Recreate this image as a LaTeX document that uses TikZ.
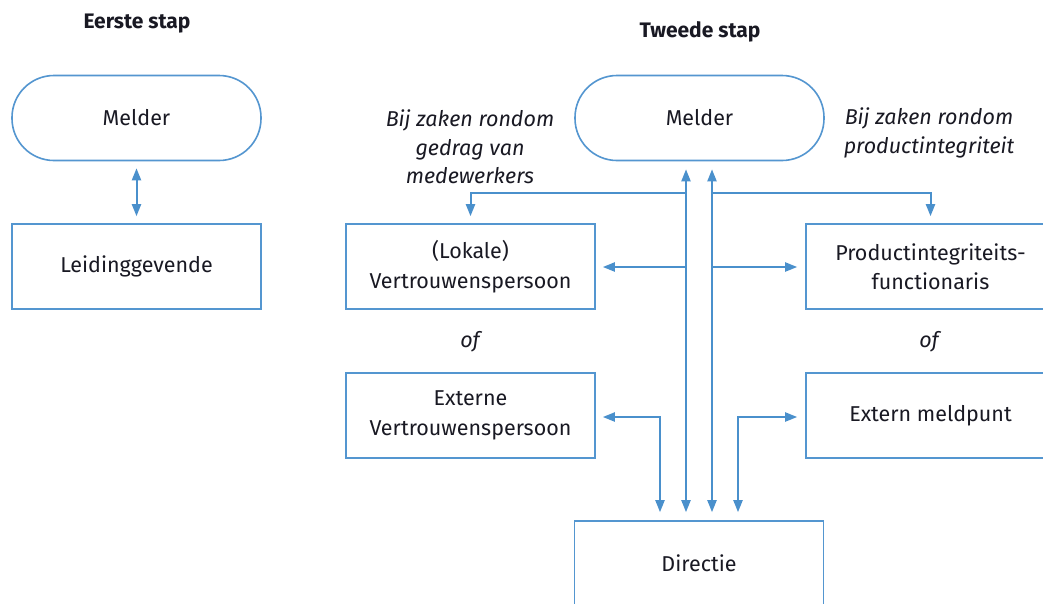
\documentclass[tikz,border=0pt]{standalone}
\usepackage{fontspec}
\setmainfont{Fira Sans}
\usetikzlibrary{arrows.meta}
\definecolor{lblue}{RGB}{74,144,204}
\definecolor{bblue}{RGB}{84,150,208}
\definecolor{txt}{RGB}{25,25,35}
\begin{document}
\begin{tikzpicture}[x=1pt,y=-1pt,
  every node/.style={text=txt, font=\fontsize{21.5}{29.5}\selectfont},
  box/.style={draw=bblue, line width=1.6pt, minimum width=249pt, minimum height=85pt, align=center, inner sep=0pt},
  term/.style={box, rounded corners=42pt},
  lbl/.style={align=center, font=\fontsize{21.5}{28.5}\selectfont\itshape},
  ttl/.style={font=\fontsize{21}{24}\selectfont\bfseries},
  arr/.tip={Triangle[length=12pt,width=9pt]},
  conn/.style={draw=lblue, line width=2pt, -arr},
  bi/.style={draw=lblue, line width=2pt, arr-arr}]
\useasboundingbox (0,0) rectangle (1043,603);
\clip (0,0) rectangle (1043,603);
\fill[white] (0,0) rectangle (1043,603);
% titles
\node[ttl] (t1) at (137,24) {Eerste stap};
\node[ttl] (t2) at (700,32) {Tweede stap};
% first step
\node[term] (m1) at (136.5,118) {Melder};
\node[box] (lg) at (136.5,266.5) {Leidinggevende};
\draw[bi, shorten <=7pt, shorten >=7pt] (m1) -- (lg);
% second step
\node[term] (m2) at (699.5,118) {Melder};
\node[box] (lv) at (470.5,266.5) {(Lokale)\\Vertrouwenspersoon};
\node[box] (pf) at (930.5,266.5) {Productintegriteits-\\functionaris};
\node[box] (ev) at (470.5,415.5) {Externe\\Vertrouwenspersoon};
\node[box] (em) at (930.5,415.5) {Extern meldpunt};
\node[box] (di) at (699,563.5) {Directie};
\node[lbl] (of1) at (470,342) {of};
\node[lbl] (of2) at (929,342) {of};
\node[lbl] (la) at (470,147) {Bij zaken rondom\\gedrag van\\medewerkers};
\node[lbl] (lb) at (929,133) {Bij zaken rondom\\productintegriteit};
% connectors
\coordinate (jl) at (686,193);
\coordinate (jr) at (712,193);
\coordinate (hl) at (686,267);
\coordinate (hr) at (712,267);
\coordinate (el) at (660,417);
\coordinate (er) at (738,417);
\draw[bi, shorten <=7pt, shorten >=8pt] (lv.north) |- (jl) -- (jl |- m2.south);
\draw[bi, shorten <=7pt, shorten >=8pt] (pf.north) |- (jr) -- (jr |- m2.south);
\draw[conn, shorten >=8pt] (jl) -- (jl |- di.north);
\draw[conn, shorten >=8pt] (jr) -- (jr |- di.north);
\draw[conn, shorten >=7pt] (hl) -- (hl -| lv.east);
\draw[conn, shorten >=8pt] (hr) -- (hr -| pf.west);
\draw[bi, shorten <=7pt, shorten >=8pt] (el -| ev.east) -- (el) -- (el |- di.north);
\draw[bi, shorten <=8pt, shorten >=8pt] (er -| em.west) -- (er) -- (er |- di.north);
\end{tikzpicture}
\end{document}
